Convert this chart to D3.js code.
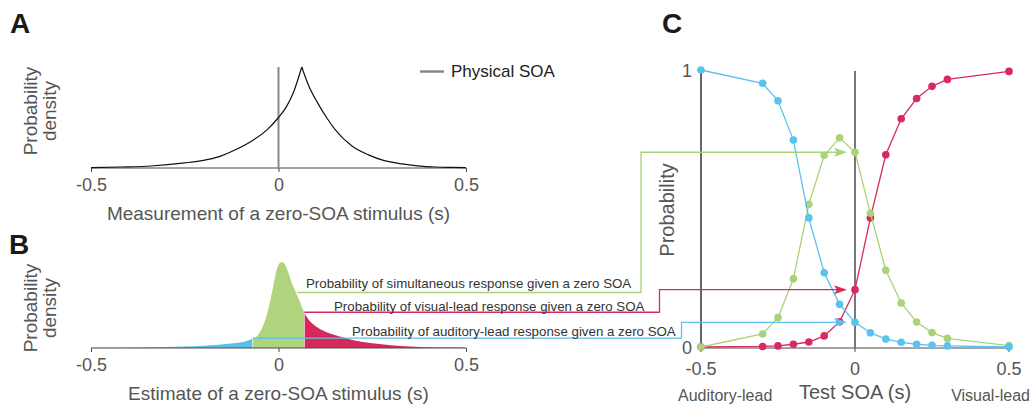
<!DOCTYPE html>
<html>
<head>
<meta charset="utf-8">
<script src="https://cdn.jsdelivr.net/npm/d3@7"></script>
<style>
  html, body { margin: 0; padding: 0; background: #fff; }
  svg { display: block; font-family: "Liberation Sans", Arial, Helvetica, sans-serif; }
</style>
</head>
<body>
<svg id="chart" width="1032" height="407"></svg>
<script>
// ---------------- DATA ----------------
// Panel A: measurement distribution (relative density)
const aX       = [-0.5, -0.42, -0.34, -0.25, -0.2, -0.16, -0.115, -0.07, -0.03, 0, 0.02, 0.04, 0.062, 0.08, 0.105, 0.13, 0.15, 0.195, 0.24, 0.28, 0.33, 0.37, 0.42, 0.46, 0.5];
const aDensity = [0.003, 0.01, 0.02, 0.05, 0.075, 0.11, 0.18, 0.27, 0.38, 0.50, 0.60, 0.75, 1.0, 0.82, 0.64, 0.49, 0.385, 0.22, 0.13, 0.075, 0.04, 0.022, 0.01, 0.006, 0.003];
const physicalSOA = 0;

// Panel B: estimate distribution (relative density)
const bX       = [-0.5, -0.45, -0.4, -0.35, -0.3, -0.25, -0.2, -0.16, -0.12, -0.09, -0.069, -0.053, -0.036, -0.023, -0.014, -0.005, 0.004, 0.01, 0.017, 0.026, 0.035, 0.044, 0.053, 0.062, 0.069, 0.08, 0.1, 0.125, 0.15, 0.2, 0.25, 0.3, 0.35, 0.4, 0.45, 0.5];
const bDensity = [0.002, 0.003, 0.006, 0.009, 0.013, 0.018, 0.027, 0.037, 0.055, 0.075, 0.11, 0.16, 0.32, 0.53, 0.72, 0.91, 0.99, 1.0, 0.97, 0.88, 0.76, 0.67, 0.58, 0.48, 0.41, 0.33, 0.25, 0.19, 0.15, 0.09, 0.055, 0.032, 0.018, 0.01, 0.005, 0.003];
const criteria = [-0.069, 0.069];

// Panel C: psychometric functions
const testSOA    = [-0.5, -0.3, -0.25, -0.2, -0.15, -0.1, -0.05, 0, 0.05, 0.1, 0.15, 0.2, 0.25, 0.3, 0.5];
const pAuditory  = [1.0, 0.952, 0.889, 0.747, 0.466, 0.268, 0.154, 0.089, 0.051, 0.029, 0.017, 0.010, 0.006, 0.004, 0.0];
const pSimult    = [0.0, 0.047, 0.106, 0.246, 0.515, 0.692, 0.755, 0.703, 0.483, 0.277, 0.159, 0.090, 0.052, 0.031, 0.005];
const pVisual    = [0.0, 0.002, 0.004, 0.010, 0.018, 0.040, 0.091, 0.207, 0.466, 0.694, 0.824, 0.897, 0.941, 0.966, 0.995];

const xTicksAB = [-0.5, 0, 0.5];
const xTicksC  = [-0.5, 0, 0.5];
const yTicksC  = [0, 1];
const tickLabel = d => d === 0 ? "0" : (d < 0 ? "-" : "") + Math.abs(d).toFixed(1);

const labels = {
  sim: "Probability of simultaneous response given a zero SOA",
  vis: "Probability of visual-lead response given a zero SOA",
  aud: "Probability of auditory-lead response given a zero SOA"
};

// ---------------- STYLE ----------------
const C_BLUE = "#58c0eb", C_GREEN = "#afd47d", C_RED = "#d7285a";
const C_BLUE_L = "#5bc2ee", C_GREEN_L = "#a9d27a", C_RED_L = "#d82a5c";
const TXT = "#555", AX = "#4a4a4a";

const svg = d3.select("#chart");

// ---------------- SCALES ----------------
const xA = d3.scaleLinear([-0.5, 0.5], [91, 466]);
const yA = d3.scaleLinear([0, 1], [168, 67]);
const xB = d3.scaleLinear([-0.5, 0.5], [91, 466]);
const yB = d3.scaleLinear([0, 1], [348, 262]);
const xC = d3.scaleLinear([-0.5, 0.5], [701, 1009]);
const yC = d3.scaleLinear([0, 1], [347, 70]);

function panelLetter(t, x, y) {
  svg.append("text").attr("x", x).attr("y", y).text(t)
    .attr("font-size", 28).attr("font-weight", "bold").attr("fill", "#1a1a1a");
}

function xAxisAB(xs, y, title, titleY) {
  const ax = d3.axisBottom(xs).tickValues(xTicksAB).tickSize(4).tickPadding(6).tickFormat(tickLabel);
  const gg = svg.append("g").attr("transform", `translate(0,${y})`).call(ax);
  gg.select(".domain").attr("stroke", AX).attr("d", `M${xs.range()[0]},0H${xs.range()[1]}`);
  gg.selectAll(".tick line").attr("stroke", AX);
  gg.selectAll(".tick text").attr("font-size", 18).attr("fill", TXT).attr("font-family", "Liberation Sans, Arial, sans-serif");
  svg.append("text").attr("x", (xs.range()[0] + xs.range()[1]) / 2).attr("y", titleY)
    .attr("text-anchor", "middle").attr("font-size", 19).attr("fill", TXT).text(title);
}

function yLabelAB(cy) {
  const g = svg.append("g").attr("transform", `translate(0,${cy}) rotate(-90)`);
  g.append("text").attr("x", 0).attr("y", 37).attr("text-anchor", "middle")
    .attr("font-size", 19).attr("fill", TXT).text("Probability");
  g.append("text").attr("x", 0).attr("y", 56).attr("text-anchor", "middle")
    .attr("font-size", 19).attr("fill", TXT).text("density");
}

// ---------------- PANEL A ----------------
panelLetter("A", 10, 33);
const aPts = aX.map((x, i) => [x, aDensity[i]]);
const peakIdx = d3.maxIndex(aDensity);
const lineA = d3.line().x(d => xA(d[0])).y(d => yA(d[1])).curve(d3.curveMonotoneX);

xAxisAB(xA, 168, "Measurement of a zero-SOA stimulus (s)", 220);
svg.append("line").attr("x1", xA(physicalSOA)).attr("x2", xA(physicalSOA))
  .attr("y1", yA(1)).attr("y2", yA(0)).attr("stroke", "#888").attr("stroke-width", 2);
svg.append("path").attr("d", lineA(aPts.slice(0, peakIdx + 1))).attr("fill", "none").attr("stroke", "#111").attr("stroke-width", 1.2);
svg.append("path").attr("d", lineA(aPts.slice(peakIdx))).attr("fill", "none").attr("stroke", "#111").attr("stroke-width", 1.2);
yLabelAB(111);

// legend
svg.append("line").attr("x1", 420).attr("x2", 444).attr("y1", 71.5).attr("y2", 71.5)
  .attr("stroke", "#888").attr("stroke-width", 2.5);
svg.append("text").attr("x", 451).attr("y", 77).attr("font-size", 17).attr("fill", "#222").text("Physical SOA");

// ---------------- PANEL B ----------------
panelLetter("B", 9, 254);
const bPts = bX.map((x, i) => [x, bDensity[i]]);
const areaB = d3.area().x(d => xB(d[0])).y0(yB(0)).y1(d => yB(d[1])).curve(d3.curveMonotoneX);
const regions = [
  { pts: bPts.filter(d => d[0] <= criteria[0]), fill: C_BLUE },
  { pts: bPts.filter(d => d[0] >= criteria[0] && d[0] <= criteria[1]), fill: C_GREEN },
  { pts: bPts.filter(d => d[0] >= criteria[1]), fill: C_RED }
];
regions.forEach(r => svg.append("path").attr("d", areaB(r.pts)).attr("fill", r.fill));
criteria.forEach(c => {
  const v = bDensity[bX.indexOf(c)];
  svg.append("line").attr("x1", xB(c)).attr("x2", xB(c)).attr("y1", yB(0)).attr("y2", yB(v))
    .attr("stroke", "#fff").attr("stroke-width", 0.8).attr("opacity", 0.7);
});
xAxisAB(xB, 348, "Estimate of a zero-SOA stimulus (s)", 400);
yLabelAB(308);

// ---------------- PANEL C ----------------
panelLetter("C", 662, 33);

svg.append("line").attr("x1", xC(-0.5)).attr("x2", xC(0.5)).attr("y1", 348).attr("y2", 348).attr("stroke", AX).attr("stroke-width", 1);
xTicksC.forEach(t => {
  svg.append("line").attr("x1", xC(t)).attr("x2", xC(t)).attr("y1", 348).attr("y2", 352).attr("stroke", AX);
  svg.append("text").attr("x", xC(t)).attr("y", 375).attr("text-anchor", "middle")
    .attr("font-size", 18).attr("fill", TXT).text(tickLabel(t));
});
svg.append("line").attr("x1", xC(-0.5)).attr("x2", xC(-0.5)).attr("y1", yC(1)).attr("y2", 348).attr("stroke", "#666").attr("stroke-width", 2);
svg.append("line").attr("x1", xC(0)).attr("x2", xC(0)).attr("y1", yC(1) + 1).attr("y2", 348).attr("stroke", "#777").attr("stroke-width", 2);
yTicksC.forEach(t => {
  svg.append("line").attr("x1", xC(-0.5) - 4).attr("x2", xC(-0.5)).attr("y1", yC(t)).attr("y2", yC(t)).attr("stroke", AX);
  svg.append("text").attr("x", xC(-0.5) - 9).attr("y", yC(t) + 6.5).attr("text-anchor", "end")
    .attr("font-size", 18).attr("fill", TXT).text(String(t));
});
svg.append("text").attr("transform", `translate(674,210) rotate(-90)`).attr("text-anchor", "middle")
  .attr("font-size", 20).attr("fill", TXT).text("Probability");
svg.append("text").attr("x", xC(0)).attr("y", 399).attr("text-anchor", "middle").attr("font-size", 20).attr("fill", TXT).text("Test SOA (s)");
svg.append("text").attr("x", 678).attr("y", 401).attr("font-size", 16).attr("fill", TXT).text("Auditory-lead");
svg.append("text").attr("x", 1030).attr("y", 401).attr("text-anchor", "end").attr("font-size", 16).attr("fill", TXT).text("Visual-lead");

const lineC = d3.line().x((d, i) => xC(testSOA[i])).y(d => yC(d));
const series = [
  { vals: pVisual, col: C_RED_L },
  { vals: pSimult, col: C_GREEN_L },
  { vals: pAuditory, col: C_BLUE_L }
];
series.forEach(s => {
  svg.append("path").attr("d", lineC(s.vals)).attr("fill", "none").attr("stroke", s.col).attr("stroke-width", 1.3);
  svg.append("g").selectAll("circle").data(s.vals).join("circle")
    .attr("cx", (d, i) => xC(testSOA[i])).attr("cy", d => yC(d)).attr("r", 3.8).attr("fill", s.col);
});

// ---------------- CONNECTORS ----------------
const i0 = testSOA.indexOf(0);
const tipX = xC(0) - 8;
function bAt(x) { return bDensity[bX.indexOf(x)]; }
const connectors = [
  { col: C_GREEN_L, x0: xB(0.05), y0: 292.5, elbow: 641, yEnd: yC(pSimult[i0]), text: labels.sim, tx: 306, ty: 288 },
  { col: C_RED_L, x0: xB(criteria[1]), y0: yB(bAt(criteria[1])) - 0.5, elbow: 659.5, yEnd: yC(pVisual[i0]), text: labels.vis, tx: 334, ty: 311 },
  { col: C_BLUE_L, x0: xB(criteria[0]), y0: yB(bAt(criteria[0])) - 0.5, elbow: 681.5, yEnd: yC(pAuditory[i0]), text: labels.aud, tx: 352, ty: 336 }
];
connectors.forEach(c => {
  svg.append("path")
    .attr("d", `M${c.x0},${c.y0}H${c.elbow}V${c.yEnd}H${tipX - 6}`)
    .attr("fill", "none").attr("stroke", c.col).attr("stroke-width", 1.3);
  svg.append("path")
    .attr("d", `M${tipX},${c.yEnd}L${tipX - 13},${c.yEnd - 4.5}L${tipX - 10},${c.yEnd}L${tipX - 13},${c.yEnd + 4.5}Z`)
    .attr("fill", c.col);
  svg.append("text").attr("x", c.tx).attr("y", c.ty).attr("font-size", 13.3).attr("fill", "#333").text(c.text);
});
</script>
</body>
</html>
